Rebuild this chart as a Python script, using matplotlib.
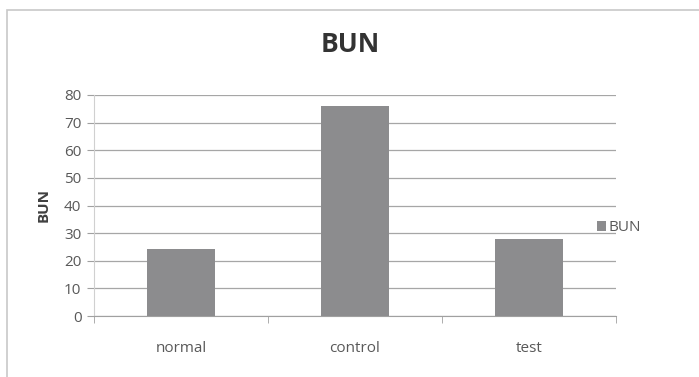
import matplotlib

matplotlib.use("Agg")
import matplotlib.pyplot as plt
from matplotlib.patches import Rectangle

categories = ["normal", "control", "test"]
bun_values = [24.3, 76, 28]
y_ticks = [0, 10, 20, 30, 40, 50, 60, 70, 80]

plt.rcParams["font.family"] = ["Open Sans", "DejaVu Sans"]

fig = plt.figure(figsize=(6.99, 3.77), dpi=100)
fig.patches.append(Rectangle((7 / 699, -0.1), 1.2, 1 - 10 / 377 + 0.1, transform=fig.transFigure,
                             fill=False, edgecolor="#c8c8c8", linewidth=1.2))

ax = fig.add_axes([94 / 699, 1 - 316 / 377, (616 - 94) / 699, (316 - 95) / 377])
x = list(range(len(categories)))
ax.bar(x, bun_values, width=0.39, color="#8c8c8e", label="BUN", zorder=3)

ax.set_xlim(-0.5, 2.5)
ax.set_ylim(0, 80)
ax.set_yticks(y_ticks)
ax.set_xticks(x)
ax.set_xticklabels(categories)
ax.set_xticks([-0.5, 0.5, 1.5, 2.5], minor=True)
ax.tick_params(axis="x", which="major", length=0, pad=18, labelsize=11, labelcolor="#595959")
ax.tick_params(axis="x", which="minor", length=5, color="#a0a0a0", direction="out")
ax.tick_params(axis="y", length=5, color="#a0a0a0", labelsize=11, labelcolor="#595959", pad=4)

ax.grid(True, axis="y", color="#a6a6a6", linewidth=0.9, zorder=0)
for side in ["top", "right"]:
    ax.spines[side].set_visible(False)
ax.spines["left"].set_color("#d0d0d0")
ax.spines["bottom"].set_color("#a0a0a0")

ax.set_ylabel("BUN", fontsize=11, fontweight="bold", color="#404040", labelpad=10)
fig.text(350 / 699, 1 - 45 / 377, "BUN", ha="center", va="center", fontsize=19,
         fontweight="bold", color="#333333")

fig.legend(loc="center left", bbox_to_anchor=(583 / 699, 1 - 228 / 377), frameon=False,
           handlelength=0.6, handleheight=0.6, handletextpad=0.2, fontsize=11,
           labelcolor="#595959")

fig.savefig("out.png", dpi=100)
